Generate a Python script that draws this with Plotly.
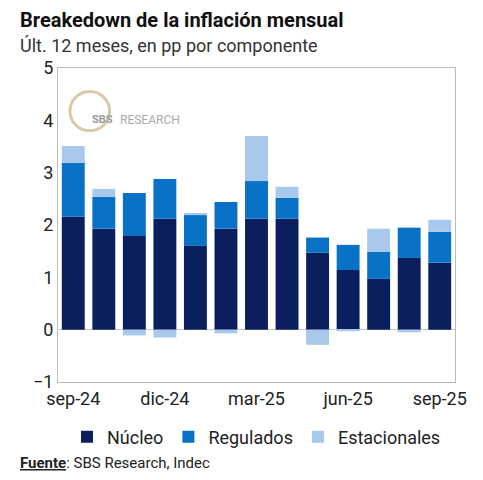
import plotly.graph_objects as go

meses = ['sep-24', 'oct-24', 'nov-24', 'dic-24', 'ene-25', 'feb-25', 'mar-25',
         'abr-25', 'may-25', 'jun-25', 'jul-25', 'ago-25', 'sep-25']
nucleo = [2.16, 1.93, 1.79, 2.12, 1.60, 1.93, 2.12, 2.12, 1.47, 1.14, 0.97, 1.37, 1.28]
regulados = [1.03, 0.61, 0.82, 0.76, 0.59, 0.51, 0.72, 0.40, 0.29, 0.48, 0.52, 0.58, 0.59]
estacionales = [0.32, 0.15, -0.11, -0.15, 0.04, -0.07, 0.86, 0.21, -0.29, -0.03, 0.44, -0.05, 0.23]
ticks_x = ['sep-24', 'dic-24', 'mar-25', 'jun-25', 'sep-25']

fig = go.Figure()
for nombre, vals, color in [('Núcleo', nucleo, '#0b1f5e'),
                            ('Regulados', regulados, '#0a72c6'),
                            ('Estacionales', estacionales, '#a8c8ec')]:
    fig.add_bar(x=meses, y=vals, name=nombre, marker_color=color, marker_line_width=0)

fig.update_layout(
    barmode='relative', bargap=0.25,
    width=483, height=480,
    margin=dict(l=50, r=36, t=60, b=106, autoexpand=False),
    plot_bgcolor='white', paper_bgcolor='white',
    font=dict(family='Roboto', size=18, color='#222'),
    showlegend=True,
    legend=dict(orientation='h', x=0.5, xanchor='center', y=-0.175, yanchor='middle',
                font=dict(size=18), traceorder='normal'),
)
fig.update_xaxes(tickvals=ticks_x, showline=True, linecolor='#bbb', ticks='',
                 mirror=True, tickfont=dict(size=18))
fig.update_yaxes(range=[-1, 5], dtick=1, showgrid=False, zeroline=True,
                 zerolinecolor='#ccc', zerolinewidth=1, showline=True,
                 linecolor='#bbb', mirror=True, ticks='', tickfont=dict(size=18))

# marca de agua
fig.add_shape(type='circle', xref='paper', yref='paper', x0=0.03, x1=0.13, y0=0.80, y1=0.925,
              line=dict(color='#d8c9a8', width=3), fillcolor='white')
fig.add_annotation(xref='paper', yref='paper', x=0.08, y=0.862, text='<b>SBS</b>',
                   showarrow=False, font=dict(size=11, color='#999'))
fig.add_annotation(xref='paper', yref='paper', x=0.15, y=0.862, xanchor='left',
                   text='RESEARCH', showarrow=False, font=dict(size=12, color='#aaa'))

fig.add_annotation(xref='paper', yref='paper', x=-0.1, y=1.153, xanchor='left', yanchor='middle',
                   text='<b>Breakedown de la inflación mensual</b>',
                   showarrow=False, font=dict(size=20, color='#111'))
fig.add_annotation(xref='paper', yref='paper', x=-0.1, y=1.073, xanchor='left', yanchor='middle',
                   text='Últ. 12 meses, en pp por componente',
                   showarrow=False, font=dict(size=18, color='#333'))
fig.add_annotation(xref='paper', yref='paper', x=-0.1, y=-0.258, xanchor='left', yanchor='middle',
                   text='<b><u>Fuente</u></b>: SBS Research, Indec',
                   showarrow=False, font=dict(size=15, color='#222'))

fig.write_html('out.html')
